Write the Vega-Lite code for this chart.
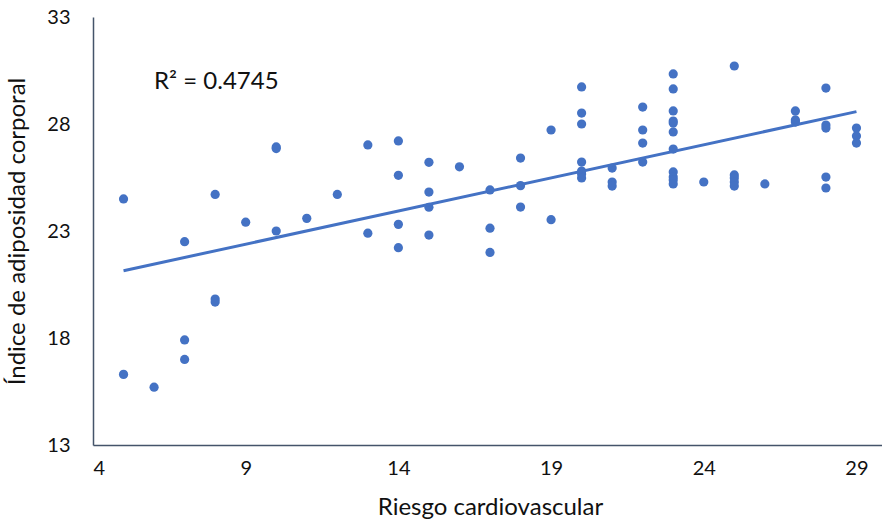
{
  "$schema": "https://vega.github.io/schema/vega-lite/v6.json",
  "width": 794,
  "height": 428,
  "autosize": "none",
  "padding": {"left": 93, "top": 17, "right": 0, "bottom": 87},
  "background": "white",
  "config": {"view": {"stroke": null}, "font": "Lato"},
  "data": {"values": [
    {"x": 5, "y": 24.50}, {"x": 5, "y": 16.30},
    {"x": 6, "y": 15.70},
    {"x": 7, "y": 22.50}, {"x": 7, "y": 17.91}, {"x": 7, "y": 17.00},
    {"x": 8, "y": 24.71}, {"x": 8, "y": 19.82}, {"x": 8, "y": 19.68},
    {"x": 9, "y": 23.41},
    {"x": 10, "y": 26.93}, {"x": 10, "y": 26.85}, {"x": 10, "y": 23.00},
    {"x": 11, "y": 23.59},
    {"x": 12, "y": 24.71},
    {"x": 13, "y": 27.02}, {"x": 13, "y": 22.90},
    {"x": 14, "y": 27.21}, {"x": 14, "y": 25.60}, {"x": 14, "y": 23.31}, {"x": 14, "y": 22.22},
    {"x": 15, "y": 26.21}, {"x": 15, "y": 24.82}, {"x": 15, "y": 24.11}, {"x": 15, "y": 22.81},
    {"x": 16, "y": 26.00},
    {"x": 17, "y": 24.92}, {"x": 17, "y": 23.13}, {"x": 17, "y": 22.00},
    {"x": 18, "y": 26.41}, {"x": 18, "y": 25.12}, {"x": 18, "y": 24.12},
    {"x": 19, "y": 27.72}, {"x": 19, "y": 23.53},
    {"x": 20, "y": 29.73}, {"x": 20, "y": 28.51}, {"x": 20, "y": 28.00}, {"x": 20, "y": 26.22}, {"x": 20, "y": 25.80}, {"x": 20, "y": 25.66}, {"x": 20, "y": 25.48},
    {"x": 21, "y": 25.94}, {"x": 21, "y": 25.29}, {"x": 21, "y": 25.10},
    {"x": 22, "y": 28.79}, {"x": 22, "y": 27.72}, {"x": 22, "y": 27.11}, {"x": 22, "y": 26.22},
    {"x": 23, "y": 30.34}, {"x": 23, "y": 29.64}, {"x": 23, "y": 28.61}, {"x": 23, "y": 28.14}, {"x": 23, "y": 28.05}, {"x": 23, "y": 27.63}, {"x": 23, "y": 26.83}, {"x": 23, "y": 25.76}, {"x": 23, "y": 25.52}, {"x": 23, "y": 25.38}, {"x": 23, "y": 25.20},
    {"x": 24, "y": 25.29},
    {"x": 25, "y": 30.71}, {"x": 25, "y": 25.62}, {"x": 25, "y": 25.48}, {"x": 25, "y": 25.29}, {"x": 25, "y": 25.10},
    {"x": 26, "y": 25.20},
    {"x": 27, "y": 28.61}, {"x": 27, "y": 28.19}, {"x": 27, "y": 28.09},
    {"x": 28, "y": 29.68}, {"x": 28, "y": 27.95}, {"x": 28, "y": 27.81}, {"x": 28, "y": 25.52}, {"x": 28, "y": 25.01},
    {"x": 29, "y": 27.81}, {"x": 29, "y": 27.44}, {"x": 29, "y": 27.11}
  ]},
  "encoding": {
    "x": {"field": "x", "type": "quantitative",
      "scale": {"domain": [4, 30], "nice": false, "zero": false},
      "axis": {"values": [4, 9, 14, 19, 24, 29], "title": "Riesgo cardiovascular", "grid": false, "ticks": false,
        "domainColor": "#44546A", "domainWidth": 1.5, "labelFontSize": 20, "labelColor": "#111111", "labelPadding": 13,
        "titleFontSize": 24, "titleFontWeight": "normal", "titleColor": "#111111", "titlePadding": 17, "labelFont": "Lato", "titleFont": "Lato"}},
    "y": {"field": "y", "type": "quantitative",
      "scale": {"domain": [13, 33], "nice": false, "zero": false},
      "axis": {"values": [13, 18, 23, 28, 33], "title": "Índice de adiposidad corporal", "grid": false, "ticks": false,
        "domainColor": "#44546A", "domainWidth": 1.5, "labelFontSize": 20, "labelColor": "#111111", "labelPadding": 23,
        "titleFontSize": 24, "titleFontWeight": "normal", "titleColor": "#111111", "titlePadding": 17, "labelFont": "Lato", "titleFont": "Lato"}}
  },
  "layer": [
    {"mark": {"type": "circle", "size": 85, "color": "#4472C4", "opacity": 1}},
    {"transform": [{"regression": "y", "on": "x", "extent": [5, 29]}],
     "mark": {"type": "line", "color": "#4472C4", "strokeWidth": 3}},
    {"data": {"values": [{"x": 6.0, "y": 29.96, "label": "R² = 0.4745"}]},
     "mark": {"type": "text", "align": "left", "baseline": "middle", "fontSize": 24, "font": "Lato", "color": "#111111"},
     "encoding": {"text": {"field": "label"}}}
  ]
}
